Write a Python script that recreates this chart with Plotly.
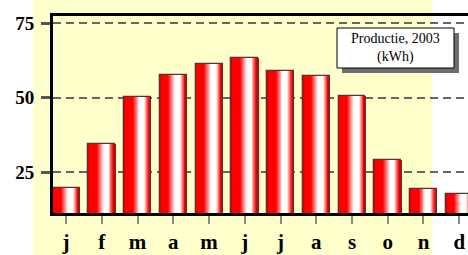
import plotly.graph_objects as go

# ---- data ----
months = ["j", "f", "m", "a", "m", "j", "j", "a", "s", "o", "n", "d"]
production = [19.6, 34.5, 50.2, 57.8, 61.2, 63.5, 58.9, 57.2, 50.7, 29.0, 19.2, 17.5]
y_ticks = [25, 50, 75]
box_title = "Productie, 2003<br>(kWh)"

x_pos = list(range(len(months)))

W, H = 468, 255
L, R, T, B = 53, 0, 16, 42
pw, ph = W - L - R, H - T - B


def px_x(p):
    return (p - L) / pw


def px_y(p):
    return (H - B - p) / ph


BAR_W = 0.755


def grad_color(t):
    # horizontal cylinder-like gradient: red -> white -> red
    red = (255, 0, 0)
    white = (255, 255, 255)
    stops = [(0.0, (200, 0, 0)), (0.06, red), (0.32, red), (0.57, white),
             (0.75, white), (0.87, (255, 70, 70)), (0.93, red), (1.0, (220, 0, 0))]
    for (a, ca), (b, cb) in zip(stops[:-1], stops[1:]):
        if a <= t <= b:
            f = 0 if b == a else (t - a) / (b - a)
            c = [round(ca[i] + (cb[i] - ca[i]) * f) for i in range(3)]
            return f"rgb({c[0]},{c[1]},{c[2]})"
    return "rgb(255,0,0)"


fig = go.Figure()
N = 28
for i in range(N):
    start = i / N
    fig.add_trace(go.Bar(
        x=x_pos, y=production,
        width=BAR_W * (1 - start),
        offset=-BAR_W / 2 + BAR_W * start,
        marker=dict(color=grad_color((i + 0.5) / N), line=dict(width=0)),
        hoverinfo="skip", showlegend=False,
    ))
# outline
fig.add_trace(go.Bar(
    x=x_pos, y=production, width=BAR_W,
    marker=dict(color="rgba(0,0,0,0)", line=dict(color="#5a3030", width=1.3)),
    showlegend=False,
))

serif = "Liberation Serif, Times New Roman, serif"

fig.update_layout(
    width=W, height=H,
    margin=dict(l=L, r=R, t=T, b=B, pad=0),
    paper_bgcolor="white",
    plot_bgcolor="rgba(0,0,0,0)",
    barmode="overlay",
    bargap=0,
    showlegend=False,
    xaxis=dict(
        range=[-0.364, 11.245],
        tickvals=x_pos, ticktext=months,
        tickfont=dict(family=serif, size=21, color="black", weight="bold"),
        ticks="outside", ticklen=8, tickwidth=2, tickcolor="#8a8a8a",
        showline=True, linecolor="black", linewidth=3, mirror=True,
        showgrid=False, zeroline=False, fixedrange=True,
    ),
    yaxis=dict(
        range=[11.2, 77.5],
        tickvals=y_ticks,
        tickfont=dict(family=serif, size=19, color="black", weight="bold"),
        ticks="outside", ticklen=9, tickwidth=3, tickcolor="#555555",
        ticklabelstandoff=3,
        showline=True, linecolor="black", linewidth=3, mirror=False,
        showgrid=True, gridcolor="#666666", gridwidth=2, griddash="8px,5px",
        zeroline=False, fixedrange=True,
    ),
    shapes=[
        dict(type="rect", xref="paper", yref="paper",
             x0=px_x(33), x1=px_x(432), y0=px_y(H), y1=px_y(0),
             fillcolor="#FFFFCC", line=dict(width=0), layer="below"),
        dict(type="rect", xref="paper", yref="paper",
             x0=px_x(342), x1=px_x(459), y0=px_y(73), y1=px_y(33),
             fillcolor="#6e6e6e", line=dict(width=0), layer="above"),
        dict(type="rect", xref="paper", yref="paper",
             x0=px_x(337), x1=px_x(454), y0=px_y(68), y1=px_y(28),
             fillcolor="white", line=dict(color="black", width=1), layer="above"),
    ],
    annotations=[
        dict(xref="paper", yref="paper", x=px_x(395.5), y=px_y(48),
             text=box_title, showarrow=False,
             font=dict(family=serif, size=14, color="black"),
             xanchor="center", yanchor="middle", align="center"),
    ],
)

fig.write_html(
    "out.html",
    config={"displayModeBar": False},
    post_script="document.body.style.margin='0';document.body.style.overflow='hidden';",
)
